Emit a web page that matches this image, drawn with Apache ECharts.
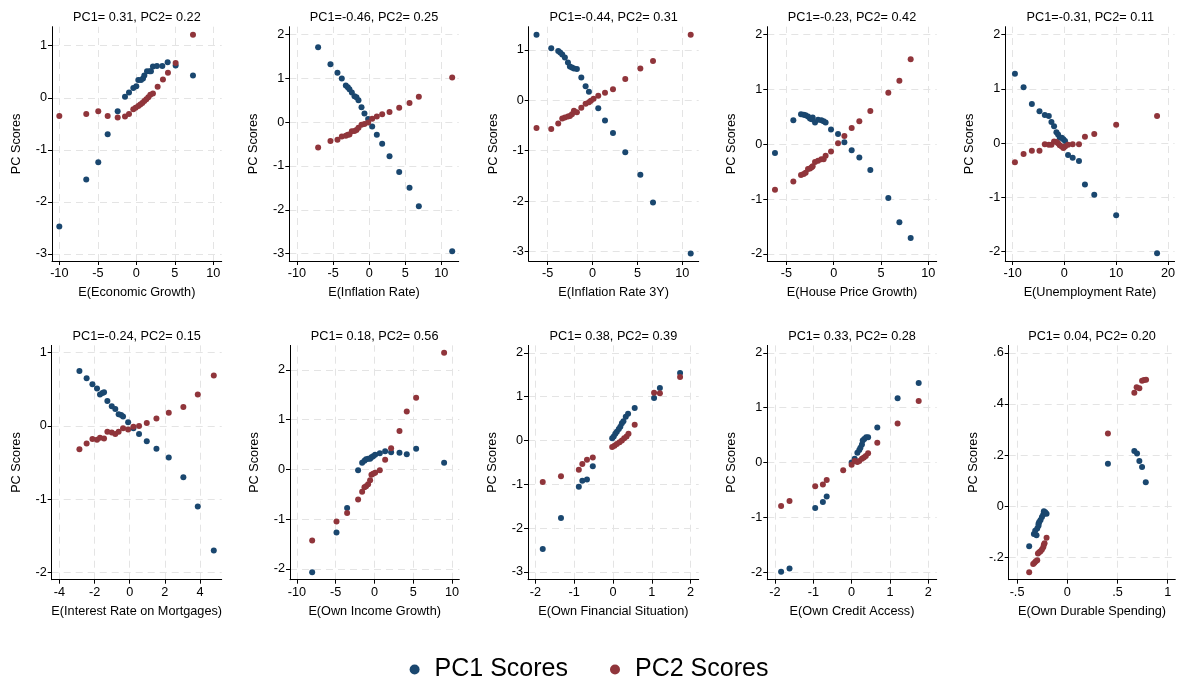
<!DOCTYPE html>
<html><head><meta charset="utf-8">
<script src="https://cdn.jsdelivr.net/npm/echarts@6/dist/echarts.min.js"></script>
<style>html,body{margin:0;padding:0;background:#fff}#c{width:1178px;height:682px}</style>
</head><body><div id="c"></div>
<script>
// ---------------- DATA ----------------
const titles = [
  'PC1= 0.31, PC2= 0.22', 'PC1=-0.46, PC2= 0.25', 'PC1=-0.44, PC2= 0.31', 'PC1=-0.23, PC2= 0.42', 'PC1=-0.31, PC2= 0.11',
  'PC1=-0.24, PC2= 0.15', 'PC1= 0.18, PC2= 0.56', 'PC1= 0.38, PC2= 0.39', 'PC1= 0.33, PC2= 0.28', 'PC1= 0.04, PC2= 0.20'
];
const xNames = [
  'E(Economic Growth)', 'E(Inflation Rate)', 'E(Inflation Rate 3Y)', 'E(House Price Growth)', 'E(Unemployment Rate)',
  'E(Interest Rate on Mortgages)', 'E(Own Income Growth)', 'E(Own Financial Situation)', 'E(Own Credit Access)', 'E(Own Durable Spending)'
];
const yName = 'PC Scores';
const seriesNames = ['PC1 Scores', 'PC2 Scores'];

const xTicks = [
  [-10, -5, 0, 5, 10], [-10, -5, 0, 5, 10], [-5, 0, 5, 10], [-5, 0, 5, 10], [-10, 0, 10, 20],
  [-4, -2, 0, 2, 4], [-10, -5, 0, 5, 10], [-2, -1, 0, 1, 2], [-2, -1, 0, 1, 2], [-0.5, 0, 0.5, 1]
];
const yTicks = [
  [-3, -2, -1, 0, 1], [-3, -2, -1, 0, 1, 2], [-3, -2, -1, 0, 1], [-2, -1, 0, 1, 2], [-2, -1, 0, 1, 2],
  [-2, -1, 0, 1], [-2, -1, 0, 1, 2], [-3, -2, -1, 0, 1, 2], [-2, -1, 0, 1, 2], [-0.2, 0, 0.2, 0.4, 0.6]
];

const econGrowthPC1 = [[-10.0,-2.47],[-6.5,-1.57],[-4.94,-1.24],[-3.72,-0.70],[-2.42,-0.26],[-1.47,0.02],[-0.95,0.10],[-0.39,0.19],[0.0,0.22],[0.26,0.34],[0.61,0.34],[0.87,0.37],[1.04,0.43],[1.39,0.51],[1.73,0.51],[1.90,0.51],[2.16,0.60],[2.68,0.61],[3.38,0.61],[4.07,0.68],[5.11,0.62],[7.36,0.43]];
const econGrowthPC2 = [[-10.0,-0.35],[-6.5,-0.31],[-4.94,-0.26],[-3.72,-0.35],[-2.42,-0.38],[-1.47,-0.36],[-0.95,-0.31],[-0.39,-0.22],[-0.09,-0.19],[0.26,-0.16],[0.52,-0.13],[0.78,-0.10],[1.04,-0.06],[1.30,-0.03],[1.56,0.01],[1.82,0.06],[2.16,0.08],[2.77,0.21],[3.46,0.35],[4.11,0.48],[5.11,0.67],[7.36,1.21]];

const inflationPC1 = [[-7.07,1.71],[-5.36,1.32],[-4.39,1.13],[-3.79,1.00],[-3.23,0.84],[-2.96,0.80],[-2.73,0.75],[-2.40,0.68],[-2.03,0.59],[-1.76,0.57],[-1.48,0.50],[-1.06,0.34],[-0.65,0.20],[-0.14,0.07],[0.42,-0.10],[1.06,-0.29],[1.80,-0.49],[2.82,-0.78],[4.16,-1.14],[5.59,-1.50],[6.88,-1.92],[11.5,-2.95]];
const inflationPC2 = [[-7.07,-0.58],[-5.36,-0.43],[-4.39,-0.40],[-3.79,-0.33],[-3.23,-0.31],[-2.96,-0.29],[-2.73,-0.28],[-2.40,-0.21],[-2.03,-0.20],[-1.76,-0.18],[-1.48,-0.13],[-1.06,-0.06],[-0.65,-0.04],[-0.14,-0.01],[0.42,0.08],[1.06,0.13],[1.80,0.18],[2.82,0.23],[4.16,0.33],[5.59,0.44],[6.88,0.58],[11.5,1.02]];

const inflation3yPC1 = [[-6.25,1.30],[-4.61,1.03],[-3.83,0.98],[-3.61,0.95],[-3.38,0.91],[-3.09,0.85],[-2.75,0.75],[-2.53,0.67],[-2.30,0.65],[-2.08,0.63],[-1.75,0.62],[-1.26,0.45],[-0.78,0.28],[-0.41,0.17],[0.63,-0.16],[1.38,-0.40],[2.27,-0.65],[3.64,-1.03],[5.32,-1.48],[6.73,-2.03],[10.93,-3.04]];
const inflation3yPC2 = [[-6.25,-0.55],[-4.61,-0.57],[-3.83,-0.46],[-3.38,-0.36],[-3.09,-0.34],[-2.75,-0.32],[-2.53,-0.31],[-2.30,-0.28],[-2.08,-0.21],[-1.75,-0.24],[-1.26,-0.15],[-0.78,-0.07],[-0.41,-0.04],[-0.19,-0.01],[0.11,0.03],[0.63,0.09],[1.38,0.15],[2.27,0.22],[3.64,0.42],[5.32,0.63],[6.73,0.78],[10.93,1.30]];

const housePricePC1 = [[-6.20,-0.16],[-4.26,0.44],[-3.45,0.55],[-3.17,0.54],[-2.96,0.53],[-2.71,0.51],[-2.50,0.47],[-2.32,0.46],[-2.22,0.49],[-1.97,0.40],[-1.65,0.45],[-1.30,0.44],[-1.06,0.42],[-0.85,0.40],[-0.28,0.27],[0.46,0.19],[1.13,0.04],[1.90,-0.11],[2.71,-0.24],[3.87,-0.47],[5.77,-0.98],[6.94,-1.42],[8.13,-1.71]];
const housePricePC2 = [[-6.20,-0.83],[-4.26,-0.68],[-3.45,-0.56],[-3.17,-0.54],[-2.96,-0.52],[-2.71,-0.45],[-2.50,-0.44],[-2.32,-0.42],[-2.22,-0.40],[-1.97,-0.32],[-1.65,-0.30],[-1.30,-0.27],[-1.06,-0.27],[-0.85,-0.21],[-0.28,-0.13],[0.46,0.02],[1.13,0.15],[1.90,0.30],[2.71,0.42],[3.87,0.61],[5.77,0.94],[6.94,1.16],[8.13,1.55]];

const unemploymentPC1 = [[-9.55,1.28],[-7.88,1.03],[-6.28,0.72],[-4.81,0.59],[-3.78,0.52],[-3.01,0.50],[-2.50,0.39],[-1.99,0.31],[-1.54,0.20],[-1.22,0.16],[-0.90,0.10],[-0.51,0.10],[-0.19,0.07],[0.13,0.04],[0.71,-0.22],[1.60,-0.27],[2.82,-0.33],[3.97,-0.76],[5.77,-0.95],[10.0,-1.33],[17.9,-2.03]];
const unemploymentPC2 = [[-9.55,-0.35],[-7.88,-0.20],[-6.28,-0.14],[-4.81,-0.14],[-3.78,-0.02],[-3.01,-0.03],[-2.50,-0.03],[-1.99,0.03],[-1.54,0.02],[-1.22,0.00],[-0.90,-0.04],[-0.51,-0.06],[-0.19,-0.09],[0.13,-0.06],[0.71,-0.03],[1.60,-0.02],[2.82,-0.02],[3.97,0.12],[5.77,0.17],[10.0,0.34],[17.9,0.50]];

const mortgagePC1 = [[-2.86,0.75],[-2.45,0.65],[-2.12,0.57],[-1.86,0.51],[-1.69,0.43],[-1.55,0.45],[-1.46,0.46],[-1.27,0.34],[-1.02,0.27],[-0.82,0.23],[-0.63,0.16],[-0.49,0.15],[-0.38,0.13],[-0.09,0.05],[0.21,-0.03],[0.53,-0.11],[0.97,-0.21],[1.52,-0.31],[2.22,-0.43],[3.05,-0.70],[3.87,-1.10],[4.78,-1.70]];
const mortgagePC2 = [[-2.86,-0.32],[-2.45,-0.24],[-2.12,-0.18],[-1.86,-0.19],[-1.69,-0.16],[-1.46,-0.17],[-1.27,-0.08],[-1.02,-0.09],[-0.82,-0.11],[-0.63,-0.08],[-0.38,-0.03],[-0.09,-0.05],[0.21,-0.01],[0.53,0.00],[0.97,0.04],[1.52,0.10],[2.22,0.18],[3.05,0.26],[3.87,0.43],[4.78,0.69]];

const ownIncomePC1 = [[-8.04,-2.07],[-4.90,-1.27],[-3.53,-0.78],[-2.11,-0.02],[-1.59,0.13],[-1.29,0.17],[-1.08,0.20],[-0.82,0.21],[-0.56,0.21],[-0.39,0.24],[-0.17,0.26],[0.09,0.29],[0.69,0.32],[1.38,0.36],[2.15,0.34],[3.23,0.33],[4.17,0.30],[5.38,0.41],[8.99,0.13]];
const ownIncomePC2 = [[-8.04,-1.43],[-4.90,-1.05],[-3.53,-0.88],[-2.11,-0.61],[-1.59,-0.45],[-1.29,-0.36],[-1.08,-0.34],[-0.82,-0.30],[-0.56,-0.22],[-0.39,-0.11],[-0.17,-0.09],[0.09,-0.07],[0.69,-0.02],[1.38,0.19],[2.15,0.42],[3.23,0.77],[4.17,1.16],[5.38,1.44],[8.99,2.34]];

const ownFinancialPC1 = [[-1.81,-2.48],[-1.34,-1.77],[-0.88,-1.06],[-0.79,-0.92],[-0.67,-0.89],[-0.52,-0.59],[-0.02,0.05],[0.02,0.09],[0.06,0.15],[0.10,0.20],[0.15,0.26],[0.19,0.31],[0.23,0.39],[0.27,0.44],[0.33,0.54],[0.39,0.61],[0.56,0.74],[1.06,0.97],[1.21,1.20],[1.73,1.54]];
const ownFinancialPC2 = [[-1.81,-0.95],[-1.34,-0.82],[-0.88,-0.67],[-0.79,-0.54],[-0.67,-0.44],[-0.52,-0.39],[-0.02,-0.15],[0.04,-0.12],[0.10,-0.08],[0.17,-0.04],[0.23,0.00],[0.29,0.05],[0.35,0.09],[0.40,0.15],[0.56,0.36],[1.06,1.09],[1.21,1.08],[1.73,1.45]];

const ownCreditPC1 = [[-1.84,-1.99],[-1.62,-1.93],[-0.95,-0.83],[-0.75,-0.72],[-0.65,-0.62],[0.00,0.00],[0.08,0.07],[0.15,0.18],[0.20,0.23],[0.23,0.27],[0.27,0.33],[0.29,0.40],[0.33,0.43],[0.38,0.46],[0.43,0.46],[0.67,0.64],[1.20,1.17],[1.75,1.45]];
const ownCreditPC2 = [[-1.84,-0.79],[-1.62,-0.70],[-0.95,-0.43],[-0.75,-0.40],[-0.65,-0.32],[-0.22,-0.14],[0.00,-0.04],[0.08,0.03],[0.15,0.01],[0.20,0.03],[0.27,0.07],[0.32,0.09],[0.37,0.12],[0.43,0.17],[0.67,0.36],[1.20,0.71],[1.75,1.12]];

const durablePC1 = [[-0.379,-0.157],[-0.332,-0.109],[-0.319,-0.096],[-0.306,-0.114],[-0.299,-0.088],[-0.286,-0.077],[-0.286,-0.069],[-0.279,-0.062],[-0.266,-0.054],[-0.252,-0.043],[-0.239,-0.033],[-0.233,-0.020],[-0.219,-0.024],[-0.206,-0.030],[0.405,0.166],[0.668,0.216],[0.695,0.206],[0.718,0.177],[0.745,0.153],[0.782,0.093]];
const durablePC2 = [[-0.379,-0.259],[-0.339,-0.227],[-0.326,-0.222],[-0.313,-0.216],[-0.299,-0.212],[-0.292,-0.185],[-0.279,-0.181],[-0.266,-0.177],[-0.252,-0.170],[-0.239,-0.161],[-0.233,-0.151],[-0.226,-0.145],[-0.206,-0.124],[0.405,0.284],[0.668,0.444],[0.691,0.465],[0.718,0.461],[0.745,0.491],[0.765,0.494],[0.785,0.495]];

const pc1Data = [econGrowthPC1, inflationPC1, inflation3yPC1, housePricePC1, unemploymentPC1, mortgagePC1, ownIncomePC1, ownFinancialPC1, ownCreditPC1, durablePC1];
const pc2Data = [econGrowthPC2, inflationPC2, inflation3yPC2, housePricePC2, unemploymentPC2, mortgagePC2, ownIncomePC2, ownFinancialPC2, ownCreditPC2, durablePC2];

// ---------------- LAYOUT ----------------
const xExtent = [[-10.95,11.09],[-11.06,12.4],[-7.12,11.82],[-7.01,10.88],[-11.41,21.28],[-4.436,5.23],[-10.9,10.95],[-2.19,2.21],[-2.2,2.22],[-0.583,1.076]];
const yExtent = [[-3.135,1.365],[-3.17,2.18],[-3.19,1.46],[-2.128,2.146],[-2.172,2.147],[-2.10,1.10],[-2.22,2.49],[-3.18,2.17],[-2.134,2.134],[-0.288,0.629]];
const gridBox = [
  [52,26.7,169.7,234.3],[289.3,26.7,169.4,234.3],[528.7,26.7,170,234.3],[767.3,26.7,169.4,234.3],[1005.3,26.7,170,234.3],
  [51.7,345.4,170,234.3],[290,345.4,169.3,234.3],[528,345.4,170.7,234.3],[767.3,345.4,169.4,234.3],[1008.7,345.4,166.6,234.3]
];
const FONT = '"Liberation Sans", Arial, Helvetica, sans-serif';
const FS = 12.7;
const colors = ['#1a476f', '#90353b'];
const fmt = v => String(Math.round(v * 1000) / 1000).replace(/^(-?)0\./, '$1.');

const grids = [], xAxes = [], yAxes = [], series = [], titleList = [];
for (let i = 0; i < 10; i++) {
  const [l, t, w, h] = gridBox[i];
  grids.push({ left: l, top: t, width: w, height: h, containLabel: false });
  titleList.push({ text: titles[i], left: l + w / 2, top: t - 16.5, textAlign: 'center', padding: 0,
    textStyle: { fontFamily: FONT, fontSize: FS, fontWeight: 'normal', color: '#000', lineHeight: 15 } });
  const common = {
    type: 'value', gridIndex: i,
    nameTextStyle: { fontFamily: FONT, fontSize: FS, color: '#000' },
    axisLine: { show: true, onZero: false, lineStyle: { color: '#000', width: 1 } },
    axisTick: { show: true, length: 4, lineStyle: { color: '#000', width: 1 } },
    splitLine: { show: false }
  };
  xAxes.push(Object.assign({}, common, {
    min: xExtent[i][0], max: xExtent[i][1],
    name: xNames[i], nameLocation: 'middle', nameGap: 25,
    axisTick: Object.assign({}, common.axisTick, { customValues: xTicks[i] }),
    axisLabel: { customValues: xTicks[i], formatter: fmt, fontFamily: FONT, fontSize: FS, color: '#000', margin: 6 }
  }));
  yAxes.push(Object.assign({}, common, {
    min: yExtent[i][0], max: yExtent[i][1],
    name: yName, nameLocation: 'middle', nameGap: 29, nameRotate: 90,
    axisTick: Object.assign({}, common.axisTick, { customValues: yTicks[i] }),
    axisLabel: { customValues: yTicks[i], formatter: fmt, fontFamily: FONT, fontSize: FS, color: '#000', margin: 5 }
  }));
  // gridlines at the tick values, drawn beneath the markers
  series.push({ type: 'scatter', xAxisIndex: i, yAxisIndex: i, data: [], silent: true, z: 0,
    markLine: { silent: true, z: 0, symbol: ['none', 'none'], animation: false, label: { show: false },
      lineStyle: { color: '#e4e4e4', width: 1, type: [7, 5] },
      data: xTicks[i].map(v => ({ xAxis: v })).concat(yTicks[i].map(v => ({ yAxis: v }))) } });
  [pc1Data[i], pc2Data[i]].forEach((d, k) => {
    series.push({ type: 'scatter', name: seriesNames[k], xAxisIndex: i, yAxisIndex: i, data: d,
      symbol: 'circle', symbolSize: 6, itemStyle: { color: colors[k], opacity: 1 }, z: 3 + k, silent: true });
  });
}

const chart = echarts.init(document.getElementById('c'), null, { renderer: 'canvas' });
chart.setOption({
  animation: false,
  backgroundColor: '#fff',
  color: colors,
  title: titleList,
  grid: grids, xAxis: xAxes, yAxis: yAxes, series: series,
  legend: {
    data: seriesNames, left: 'center', top: 652, icon: 'circle', itemWidth: 10, itemHeight: 10, itemGap: 42,
    textStyle: { fontFamily: FONT, fontSize: 25, color: '#000', padding: [0, 0, 0, 10] }
  }
});
</script></body></html>
